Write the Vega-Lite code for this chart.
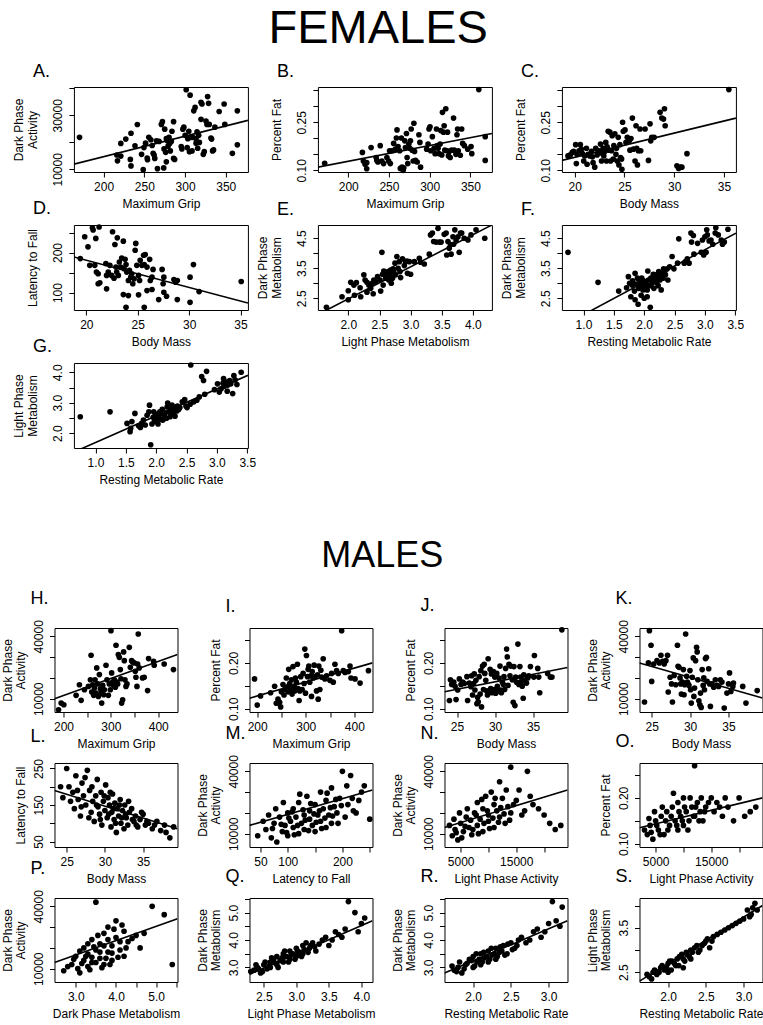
{
"$schema": "https://vega.github.io/schema/vega-lite/v6.json",
"padding": {"left": 0, "top": 5, "right": 0, "bottom": 0},
"config": {
 "font": "Liberation Sans",
 "view": {"stroke": "black", "strokeWidth": 1},
 "axis": {"domain": false, "grid": false, "tickColor": "black", "tickSize": 5, "tickWidth": 1, "labelColor": "black", "labelFontSize": 12, "labelFont": "Liberation Sans", "labelPadding": 4, "titleFont": "Liberation Sans", "titleFontSize": 12, "titleFontWeight": "normal", "titleColor": "black", "titlePadding": 6, "labelOverlap": false, "labelFlush": false, "titleLineHeight": 14},
 "axisY": {"labelAngle": 270, "labelAlign": "center", "labelBaseline": "bottom", "titlePadding": 12},
 "title": {"font": "Liberation Sans", "fontSize": 18, "fontWeight": "normal", "color": "black", "anchor": "start", "frame": "group", "dx": -41, "offset": 6}
},
"datasets": {
"A": [{"x":170.4,"y":21840},{"x":216.2,"y":15290},{"x":217,"y":13150},{"x":221.1,"y":14900},{"x":221.1,"y":19600},{"x":227.2,"y":21200},{"x":232.8,"y":13650},{"x":233.6,"y":11260},{"x":233.6,"y":23360},{"x":238.5,"y":18700},{"x":241.4,"y":26600},{"x":246.6,"y":15540},{"x":248.6,"y":9870},{"x":249.5,"y":18060},{"x":251.5,"y":19700},{"x":253.5,"y":14160},{"x":253.9,"y":13530},{"x":255.5,"y":21840},{"x":258,"y":20960},{"x":259.6,"y":18820},{"x":260.8,"y":15920},{"x":262,"y":15290},{"x":262.8,"y":14030},{"x":264.9,"y":20580},{"x":266.1,"y":10250},{"x":268.1,"y":20330},{"x":270.9,"y":26630},{"x":272.2,"y":27640},{"x":273.8,"y":10500},{"x":274.2,"y":17560},{"x":275,"y":24870},{"x":276.2,"y":16300},{"x":277,"y":21340},{"x":277,"y":12770},{"x":278.2,"y":20580},{"x":279.1,"y":18570},{"x":280.3,"y":21840},{"x":281.1,"y":19580},{"x":281.9,"y":16800},{"x":283.1,"y":20330},{"x":283.9,"y":24110},{"x":285.9,"y":27640},{"x":285.9,"y":14030},{"x":287.2,"y":13650},{"x":295.3,"y":18440},{"x":296.1,"y":17560},{"x":297.3,"y":24870},{"x":298.5,"y":25620},{"x":300.1,"y":22600},{"x":301.4,"y":39480},{"x":302.6,"y":18060},{"x":303.4,"y":21340},{"x":304.6,"y":24110},{"x":305.4,"y":16550},{"x":306.2,"y":37470},{"x":307.4,"y":21840},{"x":308.6,"y":16800},{"x":309.5,"y":21840},{"x":310.7,"y":31670},{"x":312.3,"y":32930},{"x":313.5,"y":21340},{"x":313.5,"y":19700},{"x":314.7,"y":23860},{"x":315.5,"y":17810},{"x":316.8,"y":22600},{"x":317.6,"y":19950},{"x":319.6,"y":34820},{"x":319.6,"y":28520},{"x":320.8,"y":34190},{"x":322.4,"y":15540},{"x":323.6,"y":16550},{"x":325.7,"y":27890},{"x":326.9,"y":26630},{"x":327.7,"y":36960},{"x":328.9,"y":34440},{"x":329.7,"y":26630},{"x":331.8,"y":21590},{"x":332.6,"y":21210},{"x":333.8,"y":16800},{"x":335,"y":17180},{"x":336.6,"y":25620},{"x":341.9,"y":31420},{"x":348,"y":34190},{"x":348.8,"y":26630},{"x":358.1,"y":15920},{"x":364.2,"y":31670},{"x":364.2,"y":19070}],
"B": [{"x":171.1,"y":0.122},{"x":217.4,"y":0.156},{"x":218.6,"y":0.129},{"x":220.7,"y":0.119},{"x":222.7,"y":0.105},{"x":222.7,"y":0.124},{"x":228.1,"y":0.171},{"x":234.3,"y":0.14},{"x":235.1,"y":0.131},{"x":236.4,"y":0.126},{"x":239.3,"y":0.177},{"x":241.3,"y":0.129},{"x":243.4,"y":0.121},{"x":247.5,"y":0.14},{"x":249.6,"y":0.129},{"x":250.8,"y":0.161},{"x":251.7,"y":0.121},{"x":253.7,"y":0.161},{"x":255.8,"y":0.184},{"x":257.9,"y":0.166},{"x":259.1,"y":0.201},{"x":259.9,"y":0.226},{"x":261.2,"y":0.174},{"x":263.2,"y":0.161},{"x":264,"y":0.106},{"x":265.3,"y":0.201},{"x":266.1,"y":0.11},{"x":267.4,"y":0.1},{"x":268.2,"y":0.108},{"x":269.4,"y":0.192},{"x":270.2,"y":0.171},{"x":271.5,"y":0.215},{"x":272.3,"y":0.14},{"x":273.1,"y":0.121},{"x":274.4,"y":0.182},{"x":275.6,"y":0.169},{"x":276.4,"y":0.192},{"x":277.3,"y":0.229},{"x":278.5,"y":0.163},{"x":279.8,"y":0.129},{"x":280.6,"y":0.247},{"x":281.4,"y":0.159},{"x":282.6,"y":0.131},{"x":284.7,"y":0.126},{"x":286.8,"y":0.211},{"x":288,"y":0.187},{"x":288.8,"y":0.11},{"x":296.3,"y":0.166},{"x":298,"y":0.182},{"x":299.2,"y":0.229},{"x":300.4,"y":0.236},{"x":301.2,"y":0.161},{"x":303.3,"y":0.205},{"x":305.4,"y":0.169},{"x":306.6,"y":0.152},{"x":308.3,"y":0.229},{"x":309.5,"y":0.177},{"x":310.3,"y":0.169},{"x":311.6,"y":0.152},{"x":312.8,"y":0.182},{"x":313.6,"y":0.224},{"x":314.9,"y":0.148},{"x":315.7,"y":0.281},{"x":316.9,"y":0.219},{"x":317.8,"y":0.239},{"x":318.6,"y":0.163},{"x":319.8,"y":0.292},{"x":321.1,"y":0.161},{"x":321.9,"y":0.219},{"x":323.1,"y":0.145},{"x":324,"y":0.159},{"x":325.2,"y":0.14},{"x":326.9,"y":0.163},{"x":329.3,"y":0.263},{"x":330.2,"y":0.163},{"x":332.2,"y":0.15},{"x":333.5,"y":0.211},{"x":334.3,"y":0.229},{"x":335.1,"y":0.161},{"x":337.6,"y":0.147},{"x":339.3,"y":0.229},{"x":340.5,"y":0.184},{"x":342.6,"y":0.177},{"x":346.7,"y":0.166},{"x":350.8,"y":0.174},{"x":351.7,"y":0.152},{"x":360.3,"y":0.352},{"x":368.2,"y":0.205},{"x":368.2,"y":0.131}],
"C": [{"x":19.33,"y":0.145},{"x":19.56,"y":0.148},{"x":19.76,"y":0.156},{"x":19.9,"y":0.159},{"x":20.1,"y":0.18},{"x":20.17,"y":0.121},{"x":20.24,"y":0.15},{"x":20.44,"y":0.161},{"x":20.57,"y":0.18},{"x":20.67,"y":0.166},{"x":20.78,"y":0.152},{"x":20.91,"y":0.129},{"x":21.01,"y":0.145},{"x":21.18,"y":0.169},{"x":21.25,"y":0.119},{"x":21.35,"y":0.15},{"x":21.52,"y":0.145},{"x":21.69,"y":0.159},{"x":21.79,"y":0.142},{"x":21.85,"y":0.124},{"x":22.02,"y":0.11},{"x":22.12,"y":0.169},{"x":22.26,"y":0.148},{"x":22.36,"y":0.156},{"x":22.46,"y":0.161},{"x":22.6,"y":0.182},{"x":22.7,"y":0.129},{"x":22.8,"y":0.152},{"x":22.86,"y":0.169},{"x":22.93,"y":0.145},{"x":23.03,"y":0.159},{"x":23.13,"y":0.187},{"x":23.2,"y":0.129},{"x":23.27,"y":0.173},{"x":23.37,"y":0.222},{"x":23.44,"y":0.163},{"x":23.54,"y":0.219},{"x":23.61,"y":0.129},{"x":23.71,"y":0.161},{"x":23.77,"y":0.208},{"x":23.88,"y":0.135},{"x":23.94,"y":0.177},{"x":24.04,"y":0.214},{"x":24.15,"y":0.15},{"x":24.21,"y":0.169},{"x":24.28,"y":0.129},{"x":24.38,"y":0.203},{"x":24.45,"y":0.117},{"x":24.55,"y":0.18},{"x":24.62,"y":0.14},{"x":24.72,"y":0.135},{"x":24.75,"y":0.103},{"x":24.82,"y":0.25},{"x":24.89,"y":0.222},{"x":25.06,"y":0.226},{"x":25.16,"y":0.187},{"x":25.29,"y":0.203},{"x":25.49,"y":0.192},{"x":25.56,"y":0.163},{"x":25.66,"y":0.199},{"x":25.8,"y":0.263},{"x":25.9,"y":0.166},{"x":26.07,"y":0.129},{"x":26.17,"y":0.239},{"x":26.24,"y":0.169},{"x":26.31,"y":0.117},{"x":26.4,"y":0.161},{"x":26.57,"y":0.229},{"x":26.64,"y":0.161},{"x":27.08,"y":0.229},{"x":27.42,"y":0.131},{"x":27.58,"y":0.245},{"x":27.65,"y":0.192},{"x":27.75,"y":0.203},{"x":27.99,"y":0.203},{"x":28.59,"y":0.281},{"x":28.76,"y":0.263},{"x":28.93,"y":0.26},{"x":29.03,"y":0.292},{"x":29.1,"y":0.239},{"x":30.28,"y":0.114},{"x":30.45,"y":0.106},{"x":30.62,"y":0.11},{"x":30.78,"y":0.11},{"x":31.29,"y":0.152},{"x":35.5,"y":0.352}],
"D": [{"x":19.41,"y":184.9},{"x":19.84,"y":239.4},{"x":20.16,"y":214.2},{"x":20.33,"y":168},{"x":20.59,"y":262},{"x":20.66,"y":256.2},{"x":20.82,"y":168},{"x":20.92,"y":235.3},{"x":20.98,"y":151.2},{"x":21.15,"y":147},{"x":21.24,"y":263.7},{"x":21.15,"y":121.9},{"x":21.31,"y":124.4},{"x":21.9,"y":172.3},{"x":21.97,"y":142.8},{"x":22.13,"y":151.2},{"x":22.29,"y":168},{"x":22.46,"y":142.8},{"x":22.55,"y":251.9},{"x":22.69,"y":136},{"x":22.78,"y":220.1},{"x":22.88,"y":163.7},{"x":22.95,"y":151.2},{"x":23.01,"y":236.8},{"x":23.11,"y":142.8},{"x":23.21,"y":176.3},{"x":23.34,"y":163.7},{"x":23.44,"y":186.4},{"x":23.6,"y":228.5},{"x":23.67,"y":159.6},{"x":23.77,"y":183},{"x":23.86,"y":169.8},{"x":23.93,"y":151.2},{"x":24.09,"y":130.2},{"x":24.19,"y":155.4},{"x":24.32,"y":138.5},{"x":24.42,"y":147},{"x":24.52,"y":121.9},{"x":24.65,"y":134.4},{"x":24.75,"y":205.8},{"x":24.81,"y":222.7},{"x":24.91,"y":168},{"x":25.08,"y":142.8},{"x":25.18,"y":130.2},{"x":25.24,"y":180.6},{"x":25.4,"y":168},{"x":25.57,"y":193.2},{"x":25.63,"y":169.8},{"x":25.73,"y":194.9},{"x":25.9,"y":163.7},{"x":26.16,"y":183},{"x":26.22,"y":130.2},{"x":26.39,"y":138.5},{"x":26.49,"y":157.9},{"x":27.37,"y":157.9},{"x":27.47,"y":121.9},{"x":27.54,"y":138.5},{"x":28.52,"y":132.7},{"x":28.68,"y":126},{"x":28.85,"y":130.2},{"x":30.09,"y":138.5},{"x":30.42,"y":169.8},{"x":35.07,"y":127.7},{"x":23.86,"y":63},{"x":25.63,"y":63},{"x":21.97,"y":109.3},{"x":23.6,"y":95},{"x":24.09,"y":92.4},{"x":25.08,"y":94.2},{"x":25.9,"y":105},{"x":26.39,"y":107.6},{"x":27.04,"y":82.4},{"x":27.54,"y":100.8},{"x":27.8,"y":90.7},{"x":28.85,"y":82.4},{"x":30.09,"y":75.6},{"x":30.97,"y":102.5}],
"E": [{"x":2.0,"y":2.75},{"x":2.04,"y":3.03},{"x":2.09,"y":2.94},{"x":2.13,"y":3.02},{"x":2.19,"y":2.85},{"x":2.25,"y":3.28},{"x":2.27,"y":3.11},{"x":2.3,"y":3.03},{"x":2.33,"y":2.94},{"x":2.36,"y":2.83},{"x":2.38,"y":3.0},{"x":2.41,"y":3.11},{"x":2.44,"y":3.05},{"x":2.47,"y":3.22},{"x":2.51,"y":3.11},{"x":2.52,"y":2.74},{"x":2.54,"y":4.03},{"x":2.55,"y":3.3},{"x":2.56,"y":2.94},{"x":2.57,"y":3.41},{"x":2.6,"y":3.17},{"x":2.62,"y":3.33},{"x":2.64,"y":3.39},{"x":2.65,"y":3.11},{"x":2.67,"y":3.28},{"x":2.68,"y":3.44},{"x":2.69,"y":3.0},{"x":2.71,"y":3.17},{"x":2.72,"y":3.48},{"x":2.73,"y":3.37},{"x":2.75,"y":3.67},{"x":2.76,"y":3.28},{"x":2.78,"y":3.89},{"x":2.8,"y":3.5},{"x":2.82,"y":3.72},{"x":2.83,"y":3.39},{"x":2.84,"y":3.19},{"x":2.87,"y":3.81},{"x":2.9,"y":3.59},{"x":2.92,"y":3.72},{"x":2.94,"y":3.74},{"x":2.95,"y":3.33},{"x":2.98,"y":3.72},{"x":3.0,"y":3.3},{"x":3.06,"y":3.72},{"x":3.14,"y":3.83},{"x":3.16,"y":3.7},{"x":3.22,"y":3.64},{"x":3.3,"y":3.97},{"x":3.32,"y":4.61},{"x":3.35,"y":4.67},{"x":3.37,"y":4.39},{"x":3.41,"y":4.37},{"x":3.44,"y":4.83},{"x":3.46,"y":4.37},{"x":3.49,"y":4.37},{"x":3.54,"y":4.63},{"x":3.57,"y":4.67},{"x":3.58,"y":3.94},{"x":3.6,"y":4.39},{"x":3.62,"y":4.17},{"x":3.64,"y":4.28},{"x":3.65,"y":3.97},{"x":3.68,"y":4.55},{"x":3.69,"y":4.3},{"x":3.71,"y":4.78},{"x":3.73,"y":4.44},{"x":3.76,"y":4.55},{"x":3.78,"y":4.03},{"x":3.8,"y":4.67},{"x":3.82,"y":4.67},{"x":3.86,"y":4.5},{"x":3.92,"y":4.44},{"x":3.97,"y":4.61},{"x":4.05,"y":4.78},{"x":4.19,"y":4.5},{"x":1.65,"y":2.2},{"x":1.9,"y":2.55},{"x":2.0,"y":2.45},{"x":2.1,"y":2.6},{"x":2.2,"y":2.55},{"x":2.3,"y":2.7},{"x":2.4,"y":2.65}],
"F": [{"x":0.745,"y":4.03},{"x":1.24,"y":3.03},{"x":1.58,"y":2.74},{"x":1.71,"y":2.85},{"x":1.74,"y":3.22},{"x":1.76,"y":3.0},{"x":1.8,"y":2.94},{"x":1.81,"y":3.08},{"x":1.84,"y":2.74},{"x":1.85,"y":3.33},{"x":1.87,"y":2.97},{"x":1.89,"y":3.17},{"x":1.91,"y":2.83},{"x":1.93,"y":3.03},{"x":1.95,"y":2.92},{"x":1.96,"y":3.17},{"x":1.98,"y":2.78},{"x":1.99,"y":3.08},{"x":2.01,"y":2.89},{"x":2.03,"y":3.0},{"x":2.05,"y":2.78},{"x":2.06,"y":3.41},{"x":2.07,"y":3.11},{"x":2.09,"y":2.92},{"x":2.11,"y":3.17},{"x":2.13,"y":3.0},{"x":2.15,"y":3.3},{"x":2.16,"y":2.83},{"x":2.17,"y":3.11},{"x":2.19,"y":3.28},{"x":2.2,"y":3.03},{"x":2.21,"y":3.17},{"x":2.23,"y":2.92},{"x":2.24,"y":3.39},{"x":2.26,"y":3.11},{"x":2.27,"y":3.25},{"x":2.28,"y":2.78},{"x":2.3,"y":3.33},{"x":2.31,"y":3.17},{"x":2.32,"y":3.48},{"x":2.34,"y":3.41},{"x":2.35,"y":3.28},{"x":2.38,"y":3.48},{"x":2.39,"y":3.11},{"x":2.42,"y":3.55},{"x":2.46,"y":3.89},{"x":2.49,"y":3.48},{"x":2.55,"y":3.67},{"x":2.57,"y":4.48},{"x":2.66,"y":3.67},{"x":2.68,"y":3.72},{"x":2.71,"y":3.81},{"x":2.74,"y":3.67},{"x":2.77,"y":4.67},{"x":2.78,"y":4.37},{"x":2.81,"y":4.59},{"x":2.82,"y":3.97},{"x":2.88,"y":4.33},{"x":2.94,"y":4.03},{"x":2.96,"y":4.44},{"x":2.98,"y":3.94},{"x":3.0,"y":4.55},{"x":3.02,"y":4.03},{"x":3.03,"y":4.78},{"x":3.04,"y":4.61},{"x":3.07,"y":4.41},{"x":3.1,"y":4.44},{"x":3.13,"y":4.3},{"x":3.17,"y":4.67},{"x":3.18,"y":4.85},{"x":3.22,"y":4.61},{"x":3.27,"y":4.44},{"x":3.29,"y":4.3},{"x":3.32,"y":4.37},{"x":3.38,"y":4.8},{"x":1.78,"y":2.55},{"x":1.85,"y":2.45},{"x":1.9,"y":2.3},{"x":2.0,"y":2.5},{"x":2.1,"y":2.2},{"x":1.95,"y":2.6},{"x":2.05,"y":2.55}],
"G": [{"x":0.75,"y":2.54},{"x":1.24,"y":2.7},{"x":1.52,"y":2.32},{"x":1.57,"y":2.05},{"x":1.58,"y":2.16},{"x":1.6,"y":2.38},{"x":1.65,"y":2.65},{"x":1.71,"y":2.24},{"x":1.74,"y":2.19},{"x":1.76,"y":2.32},{"x":1.79,"y":2.43},{"x":1.82,"y":2.27},{"x":1.85,"y":2.59},{"x":1.88,"y":2.7},{"x":1.89,"y":2.92},{"x":1.91,"y":1.62},{"x":1.93,"y":2.3},{"x":1.95,"y":2.52},{"x":1.96,"y":2.7},{"x":1.97,"y":2.38},{"x":1.99,"y":2.63},{"x":2.0,"y":2.45},{"x":2.03,"y":2.3},{"x":2.04,"y":2.54},{"x":2.06,"y":2.7},{"x":2.07,"y":2.45},{"x":2.09,"y":2.63},{"x":2.1,"y":2.78},{"x":2.11,"y":2.43},{"x":2.14,"y":2.54},{"x":2.15,"y":2.67},{"x":2.17,"y":2.49},{"x":2.18,"y":2.86},{"x":2.19,"y":2.99},{"x":2.21,"y":2.7},{"x":2.23,"y":2.54},{"x":2.24,"y":2.78},{"x":2.25,"y":2.63},{"x":2.26,"y":2.92},{"x":2.28,"y":2.67},{"x":2.29,"y":2.81},{"x":2.31,"y":2.56},{"x":2.32,"y":2.86},{"x":2.34,"y":2.73},{"x":2.35,"y":2.89},{"x":2.37,"y":2.78},{"x":2.39,"y":2.84},{"x":2.43,"y":3.03},{"x":2.47,"y":3.1},{"x":2.49,"y":2.89},{"x":2.51,"y":2.84},{"x":2.56,"y":2.95},{"x":2.62,"y":3.03},{"x":2.67,"y":3.08},{"x":2.71,"y":3.19},{"x":2.75,"y":3.86},{"x":2.78,"y":3.73},{"x":2.8,"y":3.28},{"x":2.83,"y":4.03},{"x":2.57,"y":4.24},{"x":2.96,"y":3.43},{"x":3.01,"y":3.62},{"x":3.04,"y":3.35},{"x":3.07,"y":3.46},{"x":3.1,"y":3.64},{"x":3.11,"y":3.79},{"x":3.12,"y":3.54},{"x":3.15,"y":3.68},{"x":3.17,"y":3.38},{"x":3.18,"y":3.58},{"x":3.21,"y":3.73},{"x":3.23,"y":3.62},{"x":3.26,"y":3.3},{"x":3.28,"y":3.89},{"x":3.3,"y":3.75},{"x":3.33,"y":3.6},{"x":3.4,"y":4.0}],
"H": [{"x":189.5,"y":4700},{"x":195.1,"y":7900},{"x":200.7,"y":7100},{"x":226.6,"y":11600},{"x":233.6,"y":16700},{"x":237.2,"y":9200},{"x":244.2,"y":14300},{"x":252.6,"y":15900},{"x":256.8,"y":19100},{"x":258.2,"y":30900},{"x":259.6,"y":13200},{"x":261.7,"y":16700},{"x":263.8,"y":11600},{"x":265.2,"y":15100},{"x":266.6,"y":19100},{"x":268.7,"y":12700},{"x":270.1,"y":24800},{"x":272.2,"y":17100},{"x":273.6,"y":11100},{"x":275.7,"y":21600},{"x":277.8,"y":14800},{"x":279.2,"y":12700},{"x":280.6,"y":7900},{"x":282.7,"y":16400},{"x":284.8,"y":11900},{"x":286.2,"y":14300},{"x":289.7,"y":26100},{"x":291.8,"y":19100},{"x":294.6,"y":11600},{"x":296.7,"y":17100},{"x":298.8,"y":14300},{"x":300.2,"y":42700},{"x":301.6,"y":22400},{"x":303.7,"y":18000},{"x":305.8,"y":16400},{"x":307.3,"y":19100},{"x":309.4,"y":15500},{"x":310.8,"y":35700},{"x":312.9,"y":18000},{"x":314.3,"y":17100},{"x":315.7,"y":31200},{"x":317.8,"y":29900},{"x":319.9,"y":24000},{"x":321.3,"y":19600},{"x":322.7,"y":7900},{"x":324.8,"y":9500},{"x":326.9,"y":32500},{"x":328.3,"y":28300},{"x":329.7,"y":19100},{"x":331.8,"y":15900},{"x":333.9,"y":17100},{"x":338.8,"y":34700},{"x":341,"y":25100},{"x":343.7,"y":28300},{"x":345.8,"y":27700},{"x":349.3,"y":27200},{"x":351.4,"y":23200},{"x":352.8,"y":20300},{"x":355,"y":15900},{"x":356.4,"y":26700},{"x":357.7,"y":41100},{"x":359.8,"y":24800},{"x":366.8,"y":20000},{"x":370.3,"y":20300},{"x":377.4,"y":13900},{"x":379.5,"y":29300},{"x":390,"y":28000},{"x":391.4,"y":26100},{"x":412.4,"y":26700},{"x":432,"y":24000}],
"I": [{"x":194.5,"y":0.165},{"x":200,"y":0.108},{"x":206.9,"y":0.128},{"x":227.6,"y":0.135},{"x":235.9,"y":0.149},{"x":239.3,"y":0.112},{"x":242.8,"y":0.121},{"x":246.2,"y":0.114},{"x":248.3,"y":0.104},{"x":249.7,"y":0.137},{"x":253.1,"y":0.153},{"x":255.2,"y":0.13},{"x":256.6,"y":0.142},{"x":260,"y":0.167},{"x":262.1,"y":0.148},{"x":263.5,"y":0.137},{"x":264.9,"y":0.186},{"x":266.9,"y":0.155},{"x":269,"y":0.142},{"x":270.4,"y":0.163},{"x":271.8,"y":0.132},{"x":273.8,"y":0.192},{"x":275.9,"y":0.149},{"x":277.3,"y":0.139},{"x":278.7,"y":0.167},{"x":280.7,"y":0.158},{"x":282.8,"y":0.197},{"x":284.2,"y":0.144},{"x":286.3,"y":0.118},{"x":287.6,"y":0.139},{"x":289.7,"y":0.17},{"x":292.5,"y":0.142},{"x":294.5,"y":0.177},{"x":296.6,"y":0.155},{"x":298,"y":0.23},{"x":299.4,"y":0.134},{"x":301.4,"y":0.216},{"x":303.5,"y":0.17},{"x":304.9,"y":0.186},{"x":306.3,"y":0.193},{"x":308.3,"y":0.158},{"x":310.4,"y":0.172},{"x":311.8,"y":0.127},{"x":313.2,"y":0.181},{"x":315.2,"y":0.167},{"x":317.3,"y":0.195},{"x":318.7,"y":0.17},{"x":322.1,"y":0.139},{"x":324.2,"y":0.174},{"x":325.6,"y":0.121},{"x":326.9,"y":0.193},{"x":329,"y":0.142},{"x":331.1,"y":0.184},{"x":332.5,"y":0.169},{"x":335.9,"y":0.209},{"x":339.4,"y":0.165},{"x":342.8,"y":0.172},{"x":349.7,"y":0.162},{"x":353.2,"y":0.177},{"x":356.6,"y":0.158},{"x":360.1,"y":0.197},{"x":363.5,"y":0.183},{"x":367,"y":0.177},{"x":373.9,"y":0.27},{"x":377.3,"y":0.183},{"x":380.8,"y":0.179},{"x":387.7,"y":0.181},{"x":391.1,"y":0.193},{"x":393.2,"y":0.167},{"x":401.5,"y":0.165},{"x":411.8,"y":0.156},{"x":429.1,"y":0.183}],
"J": [{"x":24,"y":0.118},{"x":24.13,"y":0.163},{"x":24.3,"y":0.153},{"x":24.57,"y":0.158},{"x":24.74,"y":0.149},{"x":24.87,"y":0.12},{"x":25.09,"y":0.141},{"x":25.3,"y":0.165},{"x":25.52,"y":0.153},{"x":25.74,"y":0.158},{"x":25.96,"y":0.155},{"x":26.3,"y":0.17},{"x":26.39,"y":0.118},{"x":26.61,"y":0.156},{"x":26.83,"y":0.148},{"x":26.91,"y":0.172},{"x":27.04,"y":0.13},{"x":27.17,"y":0.155},{"x":27.26,"y":0.176},{"x":27.35,"y":0.141},{"x":27.48,"y":0.162},{"x":27.61,"y":0.111},{"x":27.7,"y":0.125},{"x":27.78,"y":0.115},{"x":27.91,"y":0.17},{"x":28.04,"y":0.132},{"x":28.13,"y":0.183},{"x":28.22,"y":0.104},{"x":28.35,"y":0.193},{"x":28.48,"y":0.142},{"x":28.57,"y":0.197},{"x":28.65,"y":0.177},{"x":28.78,"y":0.162},{"x":28.91,"y":0.139},{"x":29,"y":0.13},{"x":29.09,"y":0.209},{"x":29.22,"y":0.135},{"x":29.35,"y":0.186},{"x":29.43,"y":0.144},{"x":29.52,"y":0.176},{"x":29.65,"y":0.135},{"x":29.78,"y":0.181},{"x":29.87,"y":0.142},{"x":29.96,"y":0.169},{"x":30.09,"y":0.134},{"x":30.22,"y":0.177},{"x":30.3,"y":0.149},{"x":30.39,"y":0.139},{"x":30.52,"y":0.167},{"x":30.65,"y":0.193},{"x":30.74,"y":0.141},{"x":30.83,"y":0.135},{"x":30.96,"y":0.158},{"x":31.09,"y":0.153},{"x":31.17,"y":0.17},{"x":31.26,"y":0.142},{"x":31.39,"y":0.188},{"x":31.52,"y":0.23},{"x":31.61,"y":0.213},{"x":31.7,"y":0.151},{"x":31.83,"y":0.197},{"x":31.96,"y":0.172},{"x":32.04,"y":0.193},{"x":32.26,"y":0.163},{"x":32.39,"y":0.114},{"x":32.48,"y":0.192},{"x":32.61,"y":0.107},{"x":32.7,"y":0.169},{"x":32.83,"y":0.158},{"x":33,"y":0.241},{"x":33.13,"y":0.153},{"x":33.26,"y":0.192},{"x":33.35,"y":0.169},{"x":33.43,"y":0.158},{"x":33.57,"y":0.149},{"x":33.7,"y":0.123},{"x":33.78,"y":0.174},{"x":33.87,"y":0.162},{"x":34.13,"y":0.156},{"x":34.3,"y":0.167},{"x":34.43,"y":0.172},{"x":34.65,"y":0.192},{"x":35.09,"y":0.169},{"x":35.17,"y":0.216},{"x":35.61,"y":0.188},{"x":35.74,"y":0.169},{"x":35.87,"y":0.135},{"x":36.91,"y":0.177},{"x":37.26,"y":0.169},{"x":37.48,"y":0.169},{"x":38.78,"y":0.272}],
"K": [{"x":24.06,"y":8400},{"x":24.57,"y":27200},{"x":24.7,"y":42700},{"x":24.91,"y":35700},{"x":25,"y":18300},{"x":25.26,"y":26700},{"x":25.69,"y":28300},{"x":25.99,"y":27200},{"x":26.2,"y":30900},{"x":26.42,"y":28000},{"x":26.63,"y":26700},{"x":26.85,"y":28300},{"x":27.06,"y":30900},{"x":27.15,"y":13200},{"x":27.4,"y":20300},{"x":27.58,"y":17100},{"x":27.7,"y":8400},{"x":27.92,"y":21200},{"x":28.13,"y":16700},{"x":28.35,"y":35700},{"x":28.43,"y":25600},{"x":28.56,"y":25100},{"x":28.69,"y":20000},{"x":28.78,"y":17100},{"x":28.86,"y":12200},{"x":29,"y":18000},{"x":29.12,"y":24000},{"x":29.21,"y":11900},{"x":29.29,"y":16700},{"x":29.42,"y":41100},{"x":29.55,"y":20800},{"x":29.64,"y":18000},{"x":29.72,"y":17100},{"x":29.85,"y":16400},{"x":29.98,"y":23500},{"x":30.06,"y":14300},{"x":30.15,"y":7900},{"x":30.28,"y":20300},{"x":30.41,"y":29600},{"x":30.49,"y":11100},{"x":30.58,"y":15100},{"x":30.71,"y":28300},{"x":30.84,"y":34700},{"x":30.92,"y":32500},{"x":31.01,"y":19100},{"x":31.14,"y":9000},{"x":31.27,"y":7100},{"x":31.35,"y":12700},{"x":31.44,"y":5800},{"x":31.57,"y":24000},{"x":31.7,"y":16400},{"x":31.78,"y":20000},{"x":31.87,"y":14300},{"x":32,"y":29300},{"x":32.12,"y":29900},{"x":32.21,"y":18300},{"x":32.42,"y":24400},{"x":32.55,"y":17100},{"x":32.64,"y":6300},{"x":32.85,"y":17100},{"x":33.07,"y":15500},{"x":33.28,"y":19100},{"x":33.5,"y":16400},{"x":33.71,"y":15900},{"x":33.93,"y":19100},{"x":34.14,"y":18000},{"x":34.44,"y":5500},{"x":34.79,"y":12700},{"x":35,"y":17100},{"x":35.13,"y":22400},{"x":35.3,"y":13500},{"x":35.56,"y":15900},{"x":35.64,"y":17500},{"x":36.85,"y":15900},{"x":37.27,"y":7900},{"x":38.73,"y":13900}],
"L": [{"x":24.5,"y":170},{"x":25,"y":250},{"x":25.3,"y":200},{"x":25.8,"y":185},{"x":26,"y":140},{"x":26.2,"y":230},{"x":26.5,"y":165},{"x":26.8,"y":120},{"x":27,"y":210},{"x":27.2,"y":175},{"x":27.5,"y":150},{"x":27.7,"y":245},{"x":28,"y":190},{"x":28.2,"y":130},{"x":28.4,"y":160},{"x":28.6,"y":105},{"x":28.8,"y":175},{"x":29,"y":220},{"x":29.1,"y":145},{"x":29.3,"y":125},{"x":29.5,"y":185},{"x":29.6,"y":95},{"x":29.8,"y":160},{"x":30,"y":135},{"x":30.1,"y":205},{"x":30.3,"y":115},{"x":30.4,"y":170},{"x":30.6,"y":150},{"x":30.8,"y":90},{"x":30.9,"y":130},{"x":31,"y":180},{"x":31.2,"y":110},{"x":31.3,"y":155},{"x":31.5,"y":75},{"x":31.6,"y":140},{"x":31.8,"y":120},{"x":32,"y":165},{"x":32.1,"y":100},{"x":32.3,"y":135},{"x":32.5,"y":85},{"x":32.6,"y":150},{"x":32.8,"y":115},{"x":33,"y":95},{"x":33.2,"y":130},{"x":33.5,"y":140},{"x":33.8,"y":105},{"x":34,"y":120},{"x":34.3,"y":90},{"x":34.6,"y":110},{"x":35,"y":125},{"x":35.3,"y":95},{"x":35.7,"y":100},{"x":36.2,"y":85},{"x":36.8,"y":105},{"x":37.3,"y":80},{"x":37.8,"y":95},{"x":38.5,"y":60},{"x":39,"y":90},{"x":24.2,"y":200},{"x":25.5,"y":160},{"x":26.4,"y":190},{"x":26.9,"y":145},{"x":27.4,"y":225},{"x":27.9,"y":115},{"x":28.3,"y":200},{"x":28.9,"y":150},{"x":29.4,"y":110},{"x":29.9,"y":175},{"x":30.5,"y":125},{"x":30.7,"y":185},{"x":31.1,"y":140},{"x":31.4,"y":100},{"x":31.9,"y":150},{"x":32.2,"y":115},{"x":32.7,"y":125},{"x":33.1,"y":160},{"x":33.6,"y":110},{"x":34.1,"y":95},{"x":34.8,"y":130},{"x":35.5,"y":105},{"x":36.5,"y":95},{"x":38,"y":75}],
"M": [{"x":60,"y":12000},{"x":70,"y":8000},{"x":75,"y":15000},{"x":80,"y":6000},{"x":85,"y":18000},{"x":90,"y":11000},{"x":95,"y":14000},{"x":100,"y":20000},{"x":100,"y":9000},{"x":105,"y":16000},{"x":110,"y":13000},{"x":110,"y":22000},{"x":115,"y":18000},{"x":120,"y":10000},{"x":120,"y":25000},{"x":125,"y":15000},{"x":130,"y":19000},{"x":130,"y":12000},{"x":135,"y":28000},{"x":140,"y":17000},{"x":140,"y":21000},{"x":145,"y":14000},{"x":150,"y":24000},{"x":150,"y":11000},{"x":155,"y":19000},{"x":160,"y":30000},{"x":160,"y":16000},{"x":165,"y":22000},{"x":170,"y":13000},{"x":170,"y":26000},{"x":175,"y":19000},{"x":180,"y":32000},{"x":180,"y":15000},{"x":185,"y":23000},{"x":190,"y":20000},{"x":195,"y":27000},{"x":200,"y":40000},{"x":205,"y":18000},{"x":210,"y":24000},{"x":215,"y":38000},{"x":220,"y":21000},{"x":230,"y":26000},{"x":240,"y":33000},{"x":250,"y":17000},{"x":45,"y":9000},{"x":55,"y":16000},{"x":65,"y":19000},{"x":72,"y":12500},{"x":78,"y":22000},{"x":88,"y":14500},{"x":92,"y":25000},{"x":98,"y":10500},{"x":102,"y":17500},{"x":108,"y":20500},{"x":112,"y":9500},{"x":118,"y":14000},{"x":122,"y":29000},{"x":128,"y":21500},{"x":132,"y":16500},{"x":138,"y":11500},{"x":142,"y":24500},{"x":148,"y":19500},{"x":152,"y":15500},{"x":158,"y":21000},{"x":162,"y":12500},{"x":168,"y":17500},{"x":172,"y":29500},{"x":178,"y":22500},{"x":182,"y":18500},{"x":188,"y":26500},{"x":192,"y":15000},{"x":198,"y":23500},{"x":208,"y":33000},{"x":218,"y":27000},{"x":225,"y":20000},{"x":235,"y":30000}],
"N": [{"x":3500,"y":9000},{"x":4000,"y":12000},{"x":4500,"y":7000},{"x":5000,"y":15000},{"x":5500,"y":11000},{"x":6000,"y":18000},{"x":6500,"y":13000},{"x":7000,"y":9500},{"x":7500,"y":20000},{"x":8000,"y":14000},{"x":8000,"y":25000},{"x":8500,"y":17000},{"x":9000,"y":11000},{"x":9000,"y":22000},{"x":9500,"y":28000},{"x":10000,"y":16000},{"x":10000,"y":19000},{"x":10500,"y":30000},{"x":11000,"y":13000},{"x":11000,"y":24000},{"x":11500,"y":21000},{"x":12000,"y":35000},{"x":12000,"y":18000},{"x":12500,"y":27000},{"x":13000,"y":15000},{"x":13500,"y":23000},{"x":14000,"y":42000},{"x":14000,"y":20000},{"x":15000,"y":26000},{"x":15500,"y":31000},{"x":16000,"y":19000},{"x":17000,"y":40000},{"x":18000,"y":24000},{"x":19000,"y":22000},{"x":21000,"y":15000},{"x":22000,"y":12000},{"x":3000,"y":14000},{"x":3800,"y":17000},{"x":4200,"y":10500},{"x":4800,"y":20000},{"x":5200,"y":8000},{"x":5800,"y":13500},{"x":6200,"y":22000},{"x":6800,"y":16500},{"x":7200,"y":12000},{"x":7800,"y":19000},{"x":8200,"y":10000},{"x":8800,"y":26500},{"x":9200,"y":15000},{"x":9800,"y":21000},{"x":10200,"y":12500},{"x":10800,"y":17500},{"x":11200,"y":27000},{"x":11800,"y":15500},{"x":12200,"y":22500},{"x":12800,"y":19500},{"x":13200,"y":31000},{"x":13800,"y":16500},{"x":14500,"y":24000},{"x":16500,"y":21000},{"x":17500,"y":28000},{"x":20000,"y":19000},{"x":23000,"y":14000}],
"O": [{"x":3500,"y":0.12},{"x":4000,"y":0.14},{"x":4500,"y":0.11},{"x":5000,"y":0.15},{"x":5500,"y":0.13},{"x":6000,"y":0.16},{"x":6500,"y":0.12},{"x":7000,"y":0.17},{"x":7500,"y":0.14},{"x":8000,"y":0.18},{"x":8500,"y":0.15},{"x":9000,"y":0.13},{"x":9000,"y":0.19},{"x":9500,"y":0.16},{"x":10000,"y":0.2},{"x":10000,"y":0.14},{"x":10500,"y":0.17},{"x":11000,"y":0.15},{"x":11500,"y":0.18},{"x":12000,"y":0.27},{"x":12000,"y":0.16},{"x":12500,"y":0.19},{"x":13000,"y":0.17},{"x":13500,"y":0.15},{"x":14000,"y":0.18},{"x":15000,"y":0.2},{"x":15500,"y":0.17},{"x":16000,"y":0.19},{"x":17000,"y":0.16},{"x":18000,"y":0.18},{"x":19000,"y":0.15},{"x":20000,"y":0.2},{"x":22000,"y":0.17},{"x":3000,"y":0.13},{"x":3800,"y":0.155},{"x":4200,"y":0.125},{"x":4800,"y":0.17},{"x":5200,"y":0.14},{"x":5800,"y":0.12},{"x":6200,"y":0.18},{"x":6800,"y":0.15},{"x":7200,"y":0.13},{"x":7800,"y":0.16},{"x":8200,"y":0.21},{"x":8800,"y":0.14},{"x":9200,"y":0.17},{"x":9800,"y":0.15},{"x":10200,"y":0.18},{"x":10800,"y":0.13},{"x":11200,"y":0.2},{"x":11800,"y":0.16},{"x":12200,"y":0.18},{"x":12800,"y":0.15},{"x":13200,"y":0.2},{"x":13800,"y":0.17},{"x":14500,"y":0.19},{"x":16500,"y":0.18},{"x":17500,"y":0.2},{"x":21000,"y":0.16},{"x":23000,"y":0.18}],
"P": [{"x":2.7,"y":9000},{"x":2.9,"y":12000},{"x":3.0,"y":16000},{"x":3.1,"y":8000},{"x":3.2,"y":14000},{"x":3.2,"y":20000},{"x":3.3,"y":11000},{"x":3.3,"y":17000},{"x":3.4,"y":13000},{"x":3.4,"y":24000},{"x":3.5,"y":19000},{"x":3.5,"y":42000},{"x":3.6,"y":15000},{"x":3.6,"y":22000},{"x":3.7,"y":12000},{"x":3.7,"y":27000},{"x":3.8,"y":18000},{"x":3.8,"y":30000},{"x":3.9,"y":21000},{"x":3.9,"y":14000},{"x":4.0,"y":25000},{"x":4.0,"y":33000},{"x":4.1,"y":19000},{"x":4.2,"y":28000},{"x":4.2,"y":16000},{"x":4.3,"y":23000},{"x":4.5,"y":26000},{"x":4.6,"y":20000},{"x":4.9,"y":40000},{"x":5.2,"y":36000},{"x":5.4,"y":12000},{"x":2.8,"y":11000},{"x":2.95,"y":14500},{"x":3.05,"y":10000},{"x":3.1,"y":18500},{"x":3.15,"y":12500},{"x":3.25,"y":16000},{"x":3.3,"y":22000},{"x":3.35,"y":9500},{"x":3.4,"y":15500},{"x":3.45,"y":20500},{"x":3.5,"y":13000},{"x":3.55,"y":26000},{"x":3.6,"y":18000},{"x":3.65,"y":10500},{"x":3.7,"y":21000},{"x":3.75,"y":15000},{"x":3.8,"y":24000},{"x":3.85,"y":12000},{"x":3.9,"y":17500},{"x":3.95,"y":29000},{"x":4.05,"y":15500},{"x":4.1,"y":23000},{"x":4.15,"y":31000},{"x":4.25,"y":20000},{"x":4.4,"y":24500},{"x":4.7,"y":27000}],
"Q": [{"x":2.35,"y":2.9},{"x":2.4,"y":3.0},{"x":2.45,"y":2.8},{"x":2.5,"y":3.1},{"x":2.55,"y":2.95},{"x":2.6,"y":3.2},{"x":2.6,"y":3.0},{"x":2.65,"y":3.3},{"x":2.7,"y":3.1},{"x":2.7,"y":3.4},{"x":2.75,"y":3.25},{"x":2.8,"y":3.5},{"x":2.8,"y":3.2},{"x":2.85,"y":3.4},{"x":2.9,"y":3.6},{"x":2.9,"y":3.3},{"x":2.95,"y":3.5},{"x":3.0,"y":3.7},{"x":3.0,"y":3.4},{"x":3.05,"y":3.55},{"x":3.1,"y":3.8},{"x":3.1,"y":3.5},{"x":3.2,"y":3.7},{"x":3.25,"y":3.9},{"x":3.3,"y":3.6},{"x":3.4,"y":4.0},{"x":3.5,"y":3.8},{"x":3.6,"y":4.3},{"x":3.7,"y":4.1},{"x":3.8,"y":5.4},{"x":3.9,"y":5.0},{"x":4.0,"y":4.6},{"x":2.3,"y":2.85},{"x":2.38,"y":3.1},{"x":2.42,"y":2.95},{"x":2.48,"y":2.85},{"x":2.52,"y":3.2},{"x":2.58,"y":3.05},{"x":2.62,"y":3.35},{"x":2.68,"y":3.15},{"x":2.72,"y":3.0},{"x":2.78,"y":3.35},{"x":2.82,"y":3.6},{"x":2.88,"y":3.2},{"x":2.92,"y":3.45},{"x":2.98,"y":3.3},{"x":3.02,"y":3.6},{"x":3.08,"y":3.4},{"x":3.12,"y":3.65},{"x":3.15,"y":3.9},{"x":3.18,"y":3.55},{"x":3.22,"y":3.8},{"x":3.28,"y":3.75},{"x":3.35,"y":3.85},{"x":3.45,"y":4.1},{"x":3.55,"y":4.0},{"x":3.65,"y":4.2},{"x":3.75,"y":4.4},{"x":3.95,"y":4.3},{"x":4.05,"y":4.8}],
"R": [{"x":1.75,"y":2.9},{"x":1.8,"y":3.0},{"x":1.85,"y":2.8},{"x":1.9,"y":3.1},{"x":1.95,"y":3.3},{"x":2.0,"y":3.0},{"x":2.0,"y":3.4},{"x":2.05,"y":3.2},{"x":2.1,"y":3.5},{"x":2.1,"y":3.1},{"x":2.15,"y":3.35},{"x":2.2,"y":3.6},{"x":2.2,"y":3.2},{"x":2.25,"y":3.45},{"x":2.3,"y":3.7},{"x":2.3,"y":3.3},{"x":2.35,"y":3.55},{"x":2.4,"y":3.8},{"x":2.45,"y":3.5},{"x":2.5,"y":3.9},{"x":2.55,"y":3.7},{"x":2.6,"y":4.0},{"x":2.7,"y":3.9},{"x":2.8,"y":4.3},{"x":2.9,"y":4.1},{"x":3.0,"y":4.6},{"x":3.05,"y":5.4},{"x":3.15,"y":4.5},{"x":1.72,"y":3.05},{"x":1.78,"y":2.85},{"x":1.82,"y":3.2},{"x":1.88,"y":2.95},{"x":1.92,"y":3.15},{"x":1.98,"y":3.25},{"x":2.02,"y":3.05},{"x":2.04,"y":3.5},{"x":2.08,"y":3.3},{"x":2.12,"y":3.2},{"x":2.14,"y":3.55},{"x":2.18,"y":3.4},{"x":2.22,"y":3.3},{"x":2.24,"y":3.7},{"x":2.28,"y":3.5},{"x":2.32,"y":3.4},{"x":2.36,"y":3.75},{"x":2.38,"y":3.6},{"x":2.42,"y":3.45},{"x":2.46,"y":3.85},{"x":2.52,"y":3.65},{"x":2.58,"y":3.8},{"x":2.64,"y":4.1},{"x":2.75,"y":4.0},{"x":2.85,"y":4.4},{"x":2.95,"y":4.3},{"x":3.1,"y":4.7},{"x":3.18,"y":5.2}],
"S": [{"x":1.75,"y":2.4},{"x":1.8,"y":2.5},{"x":1.85,"y":2.45},{"x":1.9,"y":2.6},{"x":1.95,"y":2.55},{"x":2.0,"y":2.7},{"x":2.0,"y":2.5},{"x":2.05,"y":2.75},{"x":2.1,"y":2.65},{"x":2.15,"y":2.85},{"x":2.2,"y":2.8},{"x":2.2,"y":2.6},{"x":2.25,"y":2.9},{"x":2.3,"y":3.0},{"x":2.3,"y":2.8},{"x":2.35,"y":3.05},{"x":2.4,"y":2.95},{"x":2.45,"y":3.1},{"x":2.5,"y":3.2},{"x":2.55,"y":3.05},{"x":2.6,"y":3.3},{"x":2.7,"y":3.4},{"x":2.8,"y":3.5},{"x":2.9,"y":3.6},{"x":3.0,"y":3.7},{"x":3.05,"y":3.9},{"x":3.1,"y":3.8},{"x":3.15,"y":4.05},{"x":1.72,"y":2.45},{"x":1.78,"y":2.35},{"x":1.82,"y":2.55},{"x":1.88,"y":2.5},{"x":1.92,"y":2.65},{"x":1.98,"y":2.6},{"x":2.02,"y":2.75},{"x":2.04,"y":2.55},{"x":2.08,"y":2.7},{"x":2.12,"y":2.8},{"x":2.14,"y":2.65},{"x":2.18,"y":2.9},{"x":2.22,"y":2.75},{"x":2.24,"y":2.95},{"x":2.28,"y":2.85},{"x":2.32,"y":2.95},{"x":2.38,"y":3.1},{"x":2.42,"y":3.0},{"x":2.48,"y":3.15},{"x":2.52,"y":3.25},{"x":2.58,"y":3.2},{"x":2.65,"y":3.35},{"x":2.75,"y":3.45},{"x":2.85,"y":3.55},{"x":2.95,"y":3.65},{"x":3.08,"y":3.75},{"x":3.12,"y":3.95},{"x":3.18,"y":3.9}],
"lines": [{"p":"A","x":163.5,"y":11890,"x2":377.2,"y2":28140},{"p":"B","x":162.8,"y":0.11,"x2":376.4,"y2":0.215},{"p":"C","x":18.72,"y":0.131,"x2":36.21,"y2":0.263},{"p":"D","x":18.79,"y":188.9,"x2":35.72,"y2":74},{"p":"E","x":1.513,"y":1.96,"x2":4.305,"y2":4.94},{"p":"F","x":0.645,"y":1.57,"x2":3.511,"y2":4.67},{"p":"G","x":0.645,"y":1.38,"x2":3.511,"y2":3.9},{"p":"H","x":181,"y":10000,"x2":440.5,"y2":31200},{"p":"I","x":184.1,"y":0.123,"x2":437.4,"y2":0.2},{"p":"J","x":23.35,"y":0.137,"x2":39.52,"y2":0.19},{"p":"K","x":23.41,"y":27200,"x2":39.42,"y2":10300},{"p":"L","x":23.4,"y":190,"x2":39.5,"y2":85},{"p":"M","x":30,"y":14000,"x2":255,"y2":31000},{"p":"N","x":2100,"y":13000,"x2":24200,"y2":31000},{"p":"O","x":2100,"y":0.135,"x2":24200,"y2":0.2},{"p":"P","x":2.47,"y":13000,"x2":5.53,"y2":34000},{"p":"Q","x":2.28,"y":2.75,"x2":4.17,"y2":4.7},{"p":"R","x":1.62,"y":2.8,"x2":3.25,"y2":4.7},{"p":"S","x":1.62,"y":2.3,"x2":3.25,"y2":4.0}]
},
"center": true,
"spacing": 52,
"vconcat": [
{
 "title": {"text": "FEMALES", "fontSize": 47, "anchor": "middle", "frame": "bounds", "dx": 0, "offset": 9},
 "columns": 3, "bounds": "flush", "spacing": {"row": 53, "column": 70},
 "concat": [
  {"width":174,"height":85,"title":"A.","encoding":{"x":{"field":"x","type":"quantitative","scale":{"domain":[163.5,377.2],"nice":false,"zero":false},"axis":{"title":"Maximum Grip","values":[200,250,300,350],"format":"d"}},"y":{"field":"y","type":"quantitative","scale":{"domain":[9000,40500],"nice":false,"zero":false},"axis":{"title":["Dark Phase","Activity"],"values":[10000,20000,30000,40000],"format":"d","labelExpr":"indexof([10000,30000],datum.value)>=0?datum.label:''"}}},
   "layer":[{"data":{"name":"A"},"mark":{"type":"point","filled":true,"size":32,"color":"black","opacity":1}},{"data":{"name":"lines"},"transform":[{"filter":"datum.p=='A'"}],"mark":{"type":"rule","clip":true,"strokeWidth":1.6,"color":"black"},"encoding":{"x2":{"field":"x2"},"y2":{"field":"y2"}}}]},
  {"width":174,"height":85,"title":"B.","encoding":{"x":{"field":"x","type":"quantitative","scale":{"domain":[162.8,376.4],"nice":false,"zero":false},"axis":{"title":"Maximum Grip","values":[200,250,300,350],"format":"d"}},"y":{"field":"y","type":"quantitative","scale":{"domain":[0.0948,0.36],"nice":false,"zero":false},"axis":{"title":"Percent Fat","values":[0.1,0.15,0.2,0.25,0.3,0.35],"format":".2f","labelExpr":"indexof([0.1,0.25],datum.value)>=0?datum.label:''"}}},
   "layer":[{"data":{"name":"B"},"mark":{"type":"point","filled":true,"size":32,"color":"black","opacity":1}},{"data":{"name":"lines"},"transform":[{"filter":"datum.p=='B'"}],"mark":{"type":"rule","clip":true,"strokeWidth":1.6,"color":"black"},"encoding":{"x2":{"field":"x2"},"y2":{"field":"y2"}}}]},
  {"width":174,"height":85,"title":"C.","encoding":{"x":{"field":"x","type":"quantitative","scale":{"domain":[18.72,36.21],"nice":false,"zero":false},"axis":{"title":"Body Mass","values":[20,25,30,35],"format":"d"}},"y":{"field":"y","type":"quantitative","scale":{"domain":[0.0948,0.36],"nice":false,"zero":false},"axis":{"title":"Percent Fat","values":[0.1,0.15,0.2,0.25,0.3,0.35],"format":".2f","labelExpr":"indexof([0.1,0.25],datum.value)>=0?datum.label:''"}}},
   "layer":[{"data":{"name":"C"},"mark":{"type":"point","filled":true,"size":32,"color":"black","opacity":1}},{"data":{"name":"lines"},"transform":[{"filter":"datum.p=='C'"}],"mark":{"type":"rule","clip":true,"strokeWidth":1.6,"color":"black"},"encoding":{"x2":{"field":"x2"},"y2":{"field":"y2"}}}]},
  {"width":174,"height":85,"title":"D.","encoding":{"x":{"field":"x","type":"quantitative","scale":{"domain":[18.79,35.72],"nice":false,"zero":false},"axis":{"title":"Body Mass","values":[20,25,30,35],"format":"d"}},"y":{"field":"y","type":"quantitative","scale":{"domain":[56.4,268.8],"nice":false,"zero":false},"axis":{"title":"Latency to Fall","values":[100,150,200,250],"format":"d","labelExpr":"indexof([100,200],datum.value)>=0?datum.label:''"}}},
   "layer":[{"data":{"name":"D"},"mark":{"type":"point","filled":true,"size":32,"color":"black","opacity":1}},{"data":{"name":"lines"},"transform":[{"filter":"datum.p=='D'"}],"mark":{"type":"rule","clip":true,"strokeWidth":1.6,"color":"black"},"encoding":{"x2":{"field":"x2"},"y2":{"field":"y2"}}}]},
  {"width":174,"height":85,"title":"E.","encoding":{"x":{"field":"x","type":"quantitative","scale":{"domain":[1.513,4.305],"nice":false,"zero":false},"axis":{"title":"Light Phase Metabolism","values":[2,2.5,3,3.5,4],"format":".1f"}},"y":{"field":"y","type":"quantitative","scale":{"domain":[2.11,4.94],"nice":false,"zero":false},"axis":{"title":["Dark Phase","Metabolism"],"values":[2.5,3,3.5,4,4.5],"format":".1f","labelExpr":"indexof([2.5,3.5,4.5],datum.value)>=0?datum.label:''"}}},
   "layer":[{"data":{"name":"E"},"mark":{"type":"point","filled":true,"size":32,"color":"black","opacity":1}},{"data":{"name":"lines"},"transform":[{"filter":"datum.p=='E'"}],"mark":{"type":"rule","clip":true,"strokeWidth":1.6,"color":"black"},"encoding":{"x2":{"field":"x2"},"y2":{"field":"y2"}}}]},
  {"width":174,"height":85,"title":"F.","encoding":{"x":{"field":"x","type":"quantitative","scale":{"domain":[0.645,3.511],"nice":false,"zero":false},"axis":{"title":"Resting Metabolic Rate","values":[1,1.5,2,2.5,3,3.5],"format":".1f"}},"y":{"field":"y","type":"quantitative","scale":{"domain":[2.11,4.94],"nice":false,"zero":false},"axis":{"title":["Dark Phase","Metabolism"],"values":[2.5,3,3.5,4,4.5],"format":".1f","labelExpr":"indexof([2.5,3.5,4.5],datum.value)>=0?datum.label:''"}}},
   "layer":[{"data":{"name":"F"},"mark":{"type":"point","filled":true,"size":32,"color":"black","opacity":1}},{"data":{"name":"lines"},"transform":[{"filter":"datum.p=='F'"}],"mark":{"type":"rule","clip":true,"strokeWidth":1.6,"color":"black"},"encoding":{"x2":{"field":"x2"},"y2":{"field":"y2"}}}]},
  {"width":174,"height":85,"title":"G.","encoding":{"x":{"field":"x","type":"quantitative","scale":{"domain":[0.645,3.511],"nice":false,"zero":false},"axis":{"title":"Resting Metabolic Rate","values":[1,1.5,2,2.5,3,3.5],"format":".1f"}},"y":{"field":"y","type":"quantitative","scale":{"domain":[1.513,4.305],"nice":false,"zero":false},"axis":{"title":["Light Phase","Metabolism"],"values":[2,2.5,3,3.5,4],"format":".1f","labelExpr":"indexof([2,3,4],datum.value)>=0?datum.label:''"}}},
   "layer":[{"data":{"name":"G"},"mark":{"type":"point","filled":true,"size":32,"color":"black","opacity":1}},{"data":{"name":"lines"},"transform":[{"filter":"datum.p=='G'"}],"mark":{"type":"rule","clip":true,"strokeWidth":1.6,"color":"black"},"encoding":{"x2":{"field":"x2"},"y2":{"field":"y2"}}}]}
 ]
},
{
 "title": {"text": "MALES", "fontSize": 36, "anchor": "middle", "frame": "bounds", "dx": 0, "offset": 14},
 "columns": 4, "bounds": "flush", "spacing": {"row": 51, "column": 72},
 "concat": [
  {"width":123,"height":84,"title":{"text":"H.","dx":-24,"offset":12},"encoding":{"x":{"field":"x","type":"quantitative","scale":{"domain":[181,440.5],"nice":false,"zero":false},"axis":{"title":"Maximum Grip","values":[200,250,300,350,400],"format":"d","labelExpr":"indexof([200,300,400],datum.value)>=0?datum.label:''"}},"y":{"field":"y","type":"quantitative","scale":{"domain":[3600,44000],"nice":false,"zero":false},"axis":{"title":["Dark Phase","Activity"],"titlePadding":5,"titleLineHeight":13,"values":[10000,20000,30000,40000],"format":"d","labelExpr":"indexof([10000,40000],datum.value)>=0?datum.label:''"}}},
   "layer":[{"data":{"name":"H"},"mark":{"type":"point","filled":true,"size":32,"color":"black","opacity":1}},{"data":{"name":"lines"},"transform":[{"filter":"datum.p=='H'"}],"mark":{"type":"rule","clip":true,"strokeWidth":1.6,"color":"black"},"encoding":{"x2":{"field":"x2"},"y2":{"field":"y2"}}}]},
  {"width":123,"height":84,"title":{"text":"I.","dx":-24,"offset":12},"encoding":{"x":{"field":"x","type":"quantitative","scale":{"domain":[184.1,437.4],"nice":false,"zero":false},"axis":{"title":"Maximum Grip","values":[200,250,300,350,400],"format":"d","labelExpr":"indexof([200,300,400],datum.value)>=0?datum.label:''"}},"y":{"field":"y","type":"quantitative","scale":{"domain":[0.093,0.276],"nice":false,"zero":false},"axis":{"title":"Percent Fat","titlePadding":5,"values":[0.1,0.15,0.2,0.25],"format":".2f","labelExpr":"indexof([0.1,0.2],datum.value)>=0?datum.label:''"}}},
   "layer":[{"data":{"name":"I"},"mark":{"type":"point","filled":true,"size":32,"color":"black","opacity":1}},{"data":{"name":"lines"},"transform":[{"filter":"datum.p=='I'"}],"mark":{"type":"rule","clip":true,"strokeWidth":1.6,"color":"black"},"encoding":{"x2":{"field":"x2"},"y2":{"field":"y2"}}}]},
  {"width":123,"height":84,"title":{"text":"J.","dx":-24,"offset":12},"encoding":{"x":{"field":"x","type":"quantitative","scale":{"domain":[23.35,39.52],"nice":false,"zero":false},"axis":{"title":"Body Mass","values":[25,30,35],"format":"d"}},"y":{"field":"y","type":"quantitative","scale":{"domain":[0.093,0.276],"nice":false,"zero":false},"axis":{"title":"Percent Fat","titlePadding":5,"values":[0.1,0.15,0.2,0.25],"format":".2f","labelExpr":"indexof([0.1,0.2],datum.value)>=0?datum.label:''"}}},
   "layer":[{"data":{"name":"J"},"mark":{"type":"point","filled":true,"size":32,"color":"black","opacity":1}},{"data":{"name":"lines"},"transform":[{"filter":"datum.p=='J'"}],"mark":{"type":"rule","clip":true,"strokeWidth":1.6,"color":"black"},"encoding":{"x2":{"field":"x2"},"y2":{"field":"y2"}}}]},
  {"width":123,"height":84,"title":{"text":"K.","dx":-24,"offset":12},"encoding":{"x":{"field":"x","type":"quantitative","scale":{"domain":[23.41,39.42],"nice":false,"zero":false},"axis":{"title":"Body Mass","values":[25,30,35],"format":"d"}},"y":{"field":"y","type":"quantitative","scale":{"domain":[3600,44000],"nice":false,"zero":false},"axis":{"title":["Dark Phase","Activity"],"titlePadding":5,"titleLineHeight":13,"values":[10000,20000,30000,40000],"format":"d","labelExpr":"indexof([10000,40000],datum.value)>=0?datum.label:''"}}},
   "layer":[{"data":{"name":"K"},"mark":{"type":"point","filled":true,"size":32,"color":"black","opacity":1}},{"data":{"name":"lines"},"transform":[{"filter":"datum.p=='K'"}],"mark":{"type":"rule","clip":true,"strokeWidth":1.6,"color":"black"},"encoding":{"x2":{"field":"x2"},"y2":{"field":"y2"}}}]},
  {"width":123,"height":84,"title":{"text":"L.","dx":-24,"offset":12},"encoding":{"x":{"field":"x","type":"quantitative","scale":{"domain":[23.4,39.5],"nice":false,"zero":false},"axis":{"title":"Body Mass","values":[25,30,35],"format":"d"}},"y":{"field":"y","type":"quantitative","scale":{"domain":[35,265],"nice":false,"zero":false},"axis":{"title":"Latency to Fall","titlePadding":5,"values":[50,100,150,200,250],"format":"d","labelExpr":"indexof([50,150,250],datum.value)>=0?datum.label:''"}}},
   "layer":[{"data":{"name":"L"},"mark":{"type":"point","filled":true,"size":32,"color":"black","opacity":1}},{"data":{"name":"lines"},"transform":[{"filter":"datum.p=='L'"}],"mark":{"type":"rule","clip":true,"strokeWidth":1.6,"color":"black"},"encoding":{"x2":{"field":"x2"},"y2":{"field":"y2"}}}]},
  {"width":123,"height":84,"title":{"text":"M.","dx":-24,"offset":12},"encoding":{"x":{"field":"x","type":"quantitative","scale":{"domain":[30,255],"nice":false,"zero":false},"axis":{"title":"Latency to Fall","values":[50,100,150,200,250],"format":"d","labelExpr":"indexof([50,100,200],datum.value)>=0?datum.label:''"}},"y":{"field":"y","type":"quantitative","scale":{"domain":[3600,44000],"nice":false,"zero":false},"axis":{"title":["Dark Phase","Activity"],"titlePadding":5,"titleLineHeight":13,"values":[10000,20000,30000,40000],"format":"d","labelExpr":"indexof([10000,40000],datum.value)>=0?datum.label:''"}}},
   "layer":[{"data":{"name":"M"},"mark":{"type":"point","filled":true,"size":32,"color":"black","opacity":1}},{"data":{"name":"lines"},"transform":[{"filter":"datum.p=='M'"}],"mark":{"type":"rule","clip":true,"strokeWidth":1.6,"color":"black"},"encoding":{"x2":{"field":"x2"},"y2":{"field":"y2"}}}]},
  {"width":123,"height":84,"title":{"text":"N.","dx":-24,"offset":12},"encoding":{"x":{"field":"x","type":"quantitative","scale":{"domain":[2100,24200],"nice":false,"zero":false},"axis":{"title":"Light Phase Activity","values":[5000,10000,15000,20000],"format":"d","labelExpr":"indexof([5000,15000],datum.value)>=0?datum.label:''"}},"y":{"field":"y","type":"quantitative","scale":{"domain":[3600,44000],"nice":false,"zero":false},"axis":{"title":["Dark Phase","Activity"],"titlePadding":5,"titleLineHeight":13,"values":[10000,20000,30000,40000],"format":"d","labelExpr":"indexof([10000,40000],datum.value)>=0?datum.label:''"}}},
   "layer":[{"data":{"name":"N"},"mark":{"type":"point","filled":true,"size":32,"color":"black","opacity":1}},{"data":{"name":"lines"},"transform":[{"filter":"datum.p=='N'"}],"mark":{"type":"rule","clip":true,"strokeWidth":1.6,"color":"black"},"encoding":{"x2":{"field":"x2"},"y2":{"field":"y2"}}}]},
  {"width":123,"height":84,"title":{"text":"O.","dx":-24,"offset":12},"encoding":{"x":{"field":"x","type":"quantitative","scale":{"domain":[2100,24200],"nice":false,"zero":false},"axis":{"title":"Light Phase Activity","values":[5000,10000,15000,20000],"format":"d","labelExpr":"indexof([5000,15000],datum.value)>=0?datum.label:''"}},"y":{"field":"y","type":"quantitative","scale":{"domain":[0.093,0.276],"nice":false,"zero":false},"axis":{"title":"Percent Fat","titlePadding":5,"values":[0.1,0.15,0.2,0.25],"format":".2f","labelExpr":"indexof([0.1,0.2],datum.value)>=0?datum.label:''"}}},
   "layer":[{"data":{"name":"O"},"mark":{"type":"point","filled":true,"size":32,"color":"black","opacity":1}},{"data":{"name":"lines"},"transform":[{"filter":"datum.p=='O'"}],"mark":{"type":"rule","clip":true,"strokeWidth":1.6,"color":"black"},"encoding":{"x2":{"field":"x2"},"y2":{"field":"y2"}}}]},
  {"width":123,"height":84,"title":{"text":"P.","dx":-24,"offset":12},"encoding":{"x":{"field":"x","type":"quantitative","scale":{"domain":[2.47,5.53],"nice":false,"zero":false},"axis":{"title":"Dark Phase Metabolism","values":[3,3.5,4,4.5,5,5.5],"format":".1f","labelExpr":"indexof([3,4,5],datum.value)>=0?datum.label:''"}},"y":{"field":"y","type":"quantitative","scale":{"domain":[3600,44000],"nice":false,"zero":false},"axis":{"title":["Dark Phase","Activity"],"titlePadding":5,"titleLineHeight":13,"values":[10000,20000,30000,40000],"format":"d","labelExpr":"indexof([10000,40000],datum.value)>=0?datum.label:''"}}},
   "layer":[{"data":{"name":"P"},"mark":{"type":"point","filled":true,"size":32,"color":"black","opacity":1}},{"data":{"name":"lines"},"transform":[{"filter":"datum.p=='P'"}],"mark":{"type":"rule","clip":true,"strokeWidth":1.6,"color":"black"},"encoding":{"x2":{"field":"x2"},"y2":{"field":"y2"}}}]},
  {"width":123,"height":84,"title":{"text":"Q.","dx":-24,"offset":12},"encoding":{"x":{"field":"x","type":"quantitative","scale":{"domain":[2.28,4.17],"nice":false,"zero":false},"axis":{"title":"Light Phase Metabolism","values":[2.5,3,3.5,4],"format":".1f"}},"y":{"field":"y","type":"quantitative","scale":{"domain":[2.47,5.53],"nice":false,"zero":false},"axis":{"title":["Dark Phase","Metabolism"],"titlePadding":5,"titleLineHeight":13,"values":[3,3.5,4,4.5,5,5.5],"format":".1f","labelExpr":"indexof([3,4,5],datum.value)>=0?datum.label:''"}}},
   "layer":[{"data":{"name":"Q"},"mark":{"type":"point","filled":true,"size":32,"color":"black","opacity":1}},{"data":{"name":"lines"},"transform":[{"filter":"datum.p=='Q'"}],"mark":{"type":"rule","clip":true,"strokeWidth":1.6,"color":"black"},"encoding":{"x2":{"field":"x2"},"y2":{"field":"y2"}}}]},
  {"width":123,"height":84,"title":{"text":"R.","dx":-24,"offset":12},"encoding":{"x":{"field":"x","type":"quantitative","scale":{"domain":[1.62,3.25],"nice":false,"zero":false},"axis":{"title":"Resting Metabolic Rate","values":[2,2.5,3],"format":".1f"}},"y":{"field":"y","type":"quantitative","scale":{"domain":[2.47,5.53],"nice":false,"zero":false},"axis":{"title":["Dark Phase","Metabolism"],"titlePadding":5,"titleLineHeight":13,"values":[3,3.5,4,4.5,5,5.5],"format":".1f","labelExpr":"indexof([3,4,5],datum.value)>=0?datum.label:''"}}},
   "layer":[{"data":{"name":"R"},"mark":{"type":"point","filled":true,"size":32,"color":"black","opacity":1}},{"data":{"name":"lines"},"transform":[{"filter":"datum.p=='R'"}],"mark":{"type":"rule","clip":true,"strokeWidth":1.6,"color":"black"},"encoding":{"x2":{"field":"x2"},"y2":{"field":"y2"}}}]},
  {"width":123,"height":84,"title":{"text":"S.","dx":-24,"offset":12},"encoding":{"x":{"field":"x","type":"quantitative","scale":{"domain":[1.62,3.25],"nice":false,"zero":false},"axis":{"title":"Resting Metabolic Rate","values":[2,2.5,3],"format":".1f"}},"y":{"field":"y","type":"quantitative","scale":{"domain":[2.28,4.17],"nice":false,"zero":false},"axis":{"title":["Light Phase","Metabolism"],"titlePadding":5,"titleLineHeight":13,"values":[2.5,3,3.5,4],"format":".1f","labelExpr":"indexof([2.5,3.5],datum.value)>=0?datum.label:''"}}},
   "layer":[{"data":{"name":"S"},"mark":{"type":"point","filled":true,"size":32,"color":"black","opacity":1}},{"data":{"name":"lines"},"transform":[{"filter":"datum.p=='S'"}],"mark":{"type":"rule","clip":true,"strokeWidth":1.6,"color":"black"},"encoding":{"x2":{"field":"x2"},"y2":{"field":"y2"}}}]}
 ]
}
]
}
